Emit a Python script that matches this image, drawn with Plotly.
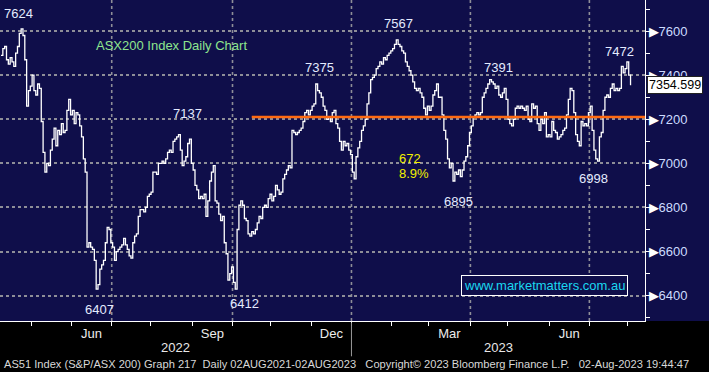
import pandas as pd
import plotly.graph_objects as go

# ---------------- data ----------------
start_date = "2022-04-07"
close = [
    # Apr - mid Jun 2022
    7490, 7520, 7530, 7470, 7450, 7480, 7460, 7440, 7500, 7530,
    7590, 7610, 7580, 7470, 7260, 7330, 7350, 7400, 7330, 7310,
    7360, 7340, 7190, 7050, 6960, 7000, 6990, 7060, 7110, 7160,
    7080, 7150, 7130, 7180, 7140, 7150, 7240, 7290, 7220, 7240,
    7180, 7230, 7220, 7170, 7120, 7020, 6960, 6620, 6640,
    # mid Jun - Aug 2022
    6620, 6610, 6560, 6430, 6450, 6520, 6540, 6560, 6640, 6710,
    6700, 6640, 6620, 6560, 6600, 6610, 6620, 6630, 6660, 6630,
    6610, 6580, 6570, 6640, 6670, 6680, 6760, 6790, 6790, 6780,
    6800, 6850, 6860, 6870, 6960, 6960, 6950, 7000, 7000, 7010,
    7000, 7020, 7050, 7060, 7050, 7100, 7110, 7120, 7130,
    # Aug - Nov 2022
    7060, 6990, 7010, 7030, 7090, 7110, 7000, 6970, 6900, 6880,
    6840, 6850, 6840, 6860, 6760, 6830, 6920, 6960, 6990, 6830,
    6820, 6770, 6740, 6760, 6640, 6590, 6470, 6500, 6530, 6460,
    6430, 6700, 6810, 6830, 6810, 6750, 6740, 6680, 6670, 6690,
    6680, 6700, 6730, 6760, 6750, 6800, 6810, 6800, 6840, 6860,
    6830, 6850,
    # Nov 2022 - Jan 2023
    6900, 6880, 6860, 6870, 6930, 6950, 6970, 6990, 6980, 7150,
    7140, 7130, 7140, 7150, 7160, 7190, 7230, 7240, 7220, 7240,
    7260, 7270, 7360, 7330, 7320, 7300, 7260, 7240, 7200, 7210,
    7190, 7230, 7240, 7180, 7160, 7100, 7060, 7100, 7080, 7090,
    7060, 7040, 6960, 6930, 7030, 7070, 7100, 7150, 7170,
    # Jan - Mar 2023
    7200, 7270, 7320, 7380, 7390, 7400, 7430, 7440, 7460, 7450,
    7480, 7470, 7490, 7500, 7510, 7520, 7540, 7560, 7540, 7530,
    7510, 7500, 7460, 7440, 7420, 7400, 7370, 7340, 7330, 7340,
    7320, 7300, 7250, 7220, 7260, 7240, 7260, 7310, 7330, 7360,
    7300, 7300, 7220, 7150, 7110, 7020, 6980, 7000, 6920,
    # Mar - Jun 2023
    6960, 6950, 6970, 6940, 6970, 7010, 7030, 7080, 7140, 7170,
    7210, 7220, 7230, 7220, 7230, 7300, 7320, 7340, 7360, 7380,
    7370, 7360, 7340, 7350, 7310, 7300, 7320, 7340, 7290, 7200,
    7180, 7170, 7200, 7250, 7260, 7250, 7260, 7250, 7240, 7260,
    7200, 7190, 7270, 7250, 7260, 7180, 7150, 7200, 7180, 7230,
    # Jun - Aug 2023
    7120, 7130, 7120, 7190, 7150, 7140, 7110, 7120, 7130, 7150,
    7160, 7220, 7290, 7340, 7330, 7230, 7130, 7100, 7080, 7190,
    7170, 7180, 7170, 7230, 7260, 7150, 7060, 7020, 7010, 7120,
    7140, 7240, 7300, 7310, 7300, 7340, 7360, 7330, 7340, 7330,
    7340, 7440, 7410, 7430, 7460, 7400, 7354.599,
]
last_value = 7354.599

y_ticks = [6400, 6600, 6800, 7000, 7200, 7400, 7600]
y_minor = [6300, 6400, 6500, 6600, 6700, 6800, 6900, 7000, 7100, 7200,
           7300, 7400, 7500, 7600, 7700]
month_label_months = ["2022-06", "2022-09", "2022-12", "2023-03", "2023-06"]
month_label_text = ["Jun", "Sep", "Dec", "Mar", "Jun"]
grid_months = ["2022-07", "2022-10", "2023-01", "2023-04", "2023-07"]
year_text = ["2022", "2023"]
support_level = 7210
support_start = "2022-10-17"

# extreme labels: text, bar index, value where the label sits
point_labels = [
    ("7624", 9.3, 7682), ("7137", 102, 7228), ("6407", 54, 6339),
    ("6412", 133, 6366), ("7375", 174, 7437), ("7567", 217, 7636),
    ("6895", 250, 6829), ("7391", 272, 7437), ("6998", 323.5, 6933),
    ("7472", 338, 7509),
]
move_text = ["672", "8.9%"]

# ---------------- derived positions ----------------
dates = pd.bdate_range(start_date, periods=len(close))
xi = list(range(len(close)))
x_range = [-0.55, 351.9]
y_range = [6285, 7741]


def month_start_pos(ym):
    d = pd.Timestamp(ym + "-01")
    idx = int((dates < d).sum())
    return idx - 0.5


all_months = pd.period_range("2022-05", "2023-08", freq="M")
month_bounds = [month_start_pos(str(p)) for p in all_months]
label_pos = []
for ym in month_label_months:
    p = pd.Period(ym, freq="M")
    a = month_start_pos(str(p))
    b = month_start_pos(str(p + 1))
    label_pos.append((a + b) / 2)
grid_pos = [month_start_pos(m) for m in grid_months]
year_break = month_start_pos("2023-01")
support_x0 = int((dates < pd.Timestamp(support_start)).sum())

NAVY = "#0f0e4a"
GRID = "#8e8e98"
SANS = "Liberation Sans, Arial, sans-serif"

fig = go.Figure()
fig.add_trace(go.Scatter(
    x=xi, y=close, mode="lines",
    line=dict(color="white", width=1.3, shape="hv"),
    hoverinfo="skip", showlegend=False,
))

shapes = []
shapes.append(dict(type="rect", xref="paper", yref="paper", x0=1, x1=709 / 645,
                   y0=0, y1=1, fillcolor=NAVY, line=dict(width=0), layer="below"))
for gx in grid_pos:
    shapes.append(dict(type="line", xref="x", yref="paper", x0=gx, x1=gx, y0=0, y1=1,
                       line=dict(color=GRID, width=1.6, dash="dot"), layer="below"))
shapes.append(dict(type="line", xref="x", yref="paper", x0=year_break, x1=year_break,
                   y0=-0.005, y1=-0.11, line=dict(color="#9a9a9a", width=1)))
shapes.append(dict(type="line", xref="x", yref="y", x0=support_x0, x1=x_range[1],
                   y0=support_level, y1=support_level,
                   line=dict(color="#ff6a10", width=2.6)))

annotations = []
for txt, px_, py_ in point_labels:
    annotations.append(dict(x=px_, y=py_, xref="x", yref="y", text=txt, showarrow=False,
                            xanchor="center", yanchor="middle",
                            font=dict(family=SANS, size=13, color="#e4ebff")))
annotations.append(dict(x=216.4, y=7024, xref="x", yref="y", text=move_text[0],
                        xanchor="left", yanchor="middle", showarrow=False,
                        font=dict(family=SANS, size=13, color="#f2f000")))
annotations.append(dict(x=216.4, y=6956, xref="x", yref="y", text=move_text[1],
                        xanchor="left", yanchor="middle", showarrow=False,
                        font=dict(family=SANS, size=13, color="#f2f000")))
annotations.append(dict(x=171 / 645, y=1 - 45 / 321, xref="paper", yref="paper",
                        xanchor="center", yanchor="middle",
                        text="ASX200 Index Daily Chart", showarrow=False,
                        font=dict(family=SANS, size=13, color="#8ee68e")))
annotations.append(dict(x=544 / 645, y=1 - 285 / 321, xref="paper", yref="paper",
                        xanchor="center", yanchor="middle",
                        text="www.marketmatters.com.au", showarrow=False,
                        bordercolor="white", borderwidth=1, borderpad=2, bgcolor=NAVY,
                        font=dict(family=SANS, size=13, color="#1ad8f0")))
annotations.append(dict(x=647 / 645, y=last_value, xref="paper", yref="y",
                        text=f"{last_value:.3f}", xanchor="left", yanchor="middle",
                        showarrow=False,
                        bgcolor="white", bordercolor="#222", borderwidth=1, borderpad=1,
                        font=dict(family=SANS, size=12.5, color="black")))
for yt, xc in zip(year_text, [(x_range[0] + year_break) / 2, (year_break + x_range[1]) / 2]):
    annotations.append(dict(x=xc, y=-(348 - 321) / 321, xref="x", yref="paper",
                            text=yt, showarrow=False, xanchor="center", yanchor="middle",
                            font=dict(family=SANS, size=13, color="#e8e8e8")))
annotations.append(dict(x=2 / 645, y=-(364 - 321) / 321, xref="paper", yref="paper",
                        xanchor="left", yanchor="middle",
                        text="AS51 Index (S&P/ASX 200) Graph 217  Daily 02AUG2021-02AUG2023"
                             "   Copyright\u00a9 2023 Bloomberg Finance L.P.   02-Aug-2023 19:44:47",
                        showarrow=False,
                        font=dict(family=SANS, size=11.1, color="#d8d8d8")))

fig.update_layout(
    width=709, height=372,
    margin=dict(l=0, r=64, t=0, b=51),
    paper_bgcolor="black", plot_bgcolor=NAVY,
    shapes=shapes, annotations=annotations,
    showlegend=False,
    xaxis=dict(
        range=x_range, showgrid=False, zeroline=False,
        showline=True, linecolor="white", linewidth=1,
        tickmode="array", tickvals=label_pos, ticktext=month_label_text,
        ticks="", tickfont=dict(family=SANS, size=13, color="#ececec"),
        minor=dict(tickmode="array", tickvals=month_bounds, ticks="outside",
                   ticklen=4, tickcolor="white", tickwidth=1, showgrid=False),
    ),
    yaxis=dict(
        range=y_range, side="right", zeroline=False,
        showline=True, linecolor="white", linewidth=1,
        tickmode="array", tickvals=y_ticks,
        ticktext=[f"<span style='color:white'>\u25b6</span>{v}" for v in y_ticks],
        ticks="", showgrid=True, gridcolor=GRID, gridwidth=1.6, griddash="dot",
        tickfont=dict(family=SANS, size=13, color="#cddcff"),
        minor=dict(tickmode="array", tickvals=y_minor, ticks="outside",
                   ticklen=4, tickcolor="white", tickwidth=1, showgrid=False),
    ),
)

fig.write_html("out.html", config={"displayModeBar": False},
               post_script="document.body.style.margin='0';")
